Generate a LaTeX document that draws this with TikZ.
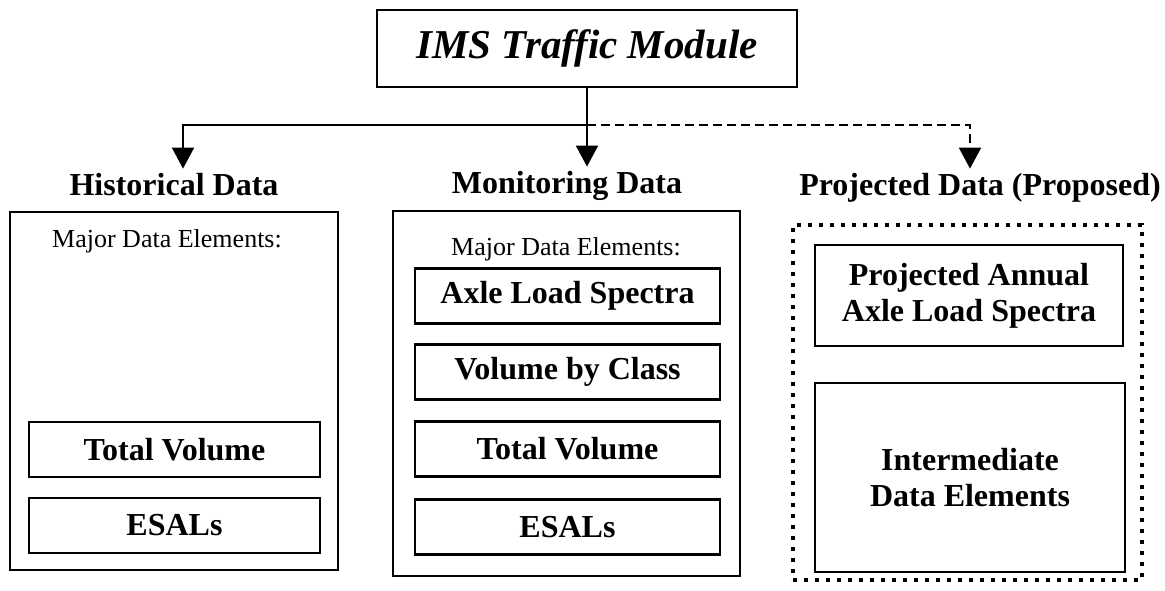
\documentclass[tikz,border=0pt]{standalone}
\usepackage{fontspec}
\setmainfont{Liberation Serif}
\usepackage{tikz}
\usetikzlibrary{arrows.meta, positioning}

\begin{document}
\begin{tikzpicture}[x=1pt, y=-1pt,
  box/.style={draw, line width=2.6pt, inner sep=0pt},
  item/.style={box, minimum height=55, align=center,
    font=\fontsize{32}{36}\selectfont\bfseries},
  heading/.style={anchor=base, inner sep=4pt,
    font=\fontsize{32}{36}\selectfont\bfseries},
  elemtext/.style={anchor=base, font=\fontsize{26}{30}\selectfont},
  link/.style={line width=2pt, -{Triangle[length=21pt, width=22pt]}},
  proposed/.style={dash pattern=on 9pt off 5pt}
]
\useasboundingbox (0,0) rectangle (1165,590);

% Top: traffic module
\node[box, minimum width=420, minimum height=77,
  font=\fontsize{41}{48}\selectfont\bfseries\itshape] (tims) at (587,48.5) {IMS Traffic Module};

% Column 1: historical
\node[heading] (histhead) at (174,195) {Historical Data};
\node[box, minimum width=328, minimum height=358] (histbox) at (174,391) {};
\node[elemtext] (histmde) at (167,247) {Major Data Elements:};
\node[item, minimum width=291] (histtv) at (174.5,449.5) {Total Volume};
\node[item, minimum width=291] (histesal) at (174.5,525.5) {ESALs};

% Column 2: monitoring
\node[heading] (monhead) at (567,193) {Monitoring Data};
\node[box, minimum width=347, minimum height=365] (monbox) at (566.5,393.5) {};
\node[elemtext] (monmde) at (566,255) {Major Data Elements:};
\node[item, minimum width=305] (monals) at (567.5,296) {Axle Load Spectra};
\node[item, minimum width=305] (monvbc) at (567.5,372) {Volume by Class};
\node[item, minimum width=305] (montv) at (567.5,449) {Total Volume};
\node[item, minimum width=305] (monesal) at (567.5,527) {ESALs};

% Column 3: projected (proposed)
\node[heading] (projhead) at (980,195) {Projected Data (Proposed)};
\node[draw, line width=4pt, dash pattern=on 4pt off 7pt, inner sep=0pt,
  minimum width=349, minimum height=355] (projbox) at (967.5,402.5) {};
\node[item, minimum width=308, minimum height=101] (projals) at (969,295.5)
  {Projected Annual\\Axle Load Spectra};
\node[item, minimum width=310, minimum height=189] (projide) at (970,477.5)
  {Intermediate\\Data Elements};

% Connectors
\coordinate (split) at (587,125);
\draw[link] (tims.south) -- (tims.south |- monhead.north);
\draw[link] (split) -| ([xshift=9pt]histhead.north);
\draw[link, proposed] (split) -| ([xshift=-10pt]projhead.north);

\end{tikzpicture}
\end{document}
